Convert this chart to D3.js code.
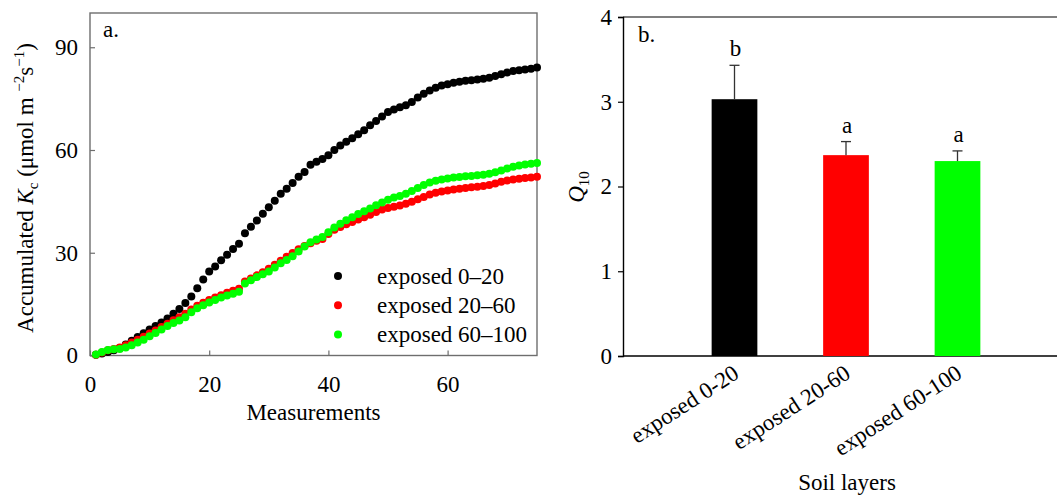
<!DOCTYPE html>
<html>
<head>
<meta charset="utf-8">
<script src="https://cdn.jsdelivr.net/npm/d3@7"></script>
<style>
  html, body { margin: 0; padding: 0; background: #fff; }
  svg { display: block; }
  text { font-family: "Liberation Serif", "Times New Roman", serif; fill: #000; }
</style>
</head>
<body>
<svg id="fig" width="1057" height="498"></svg>
<script>
// ---- Panel a: accumulated Kc per measurement, three soil layers ----
const measurements = d3.range(1, 76);
const exposed0_20 = [0.2, 0.6, 1.0, 1.5, 2.2, 3.2, 4.3, 5.4, 6.5, 7.6,
  8.6, 9.6, 10.8, 12.2, 13.6, 15.3, 17.2, 19.6, 22.2, 24.5,
  26.0, 27.8, 29.4, 31.1, 32.6, 35.7, 37.6, 39.4, 41.4, 43.3,
  45.2, 47.2, 48.7, 50.4, 52.2, 53.6, 55.7, 56.6, 57.4, 58.5,
  60.0, 61.3, 62.4, 63.4, 64.6, 65.8, 67.2, 68.5, 69.8, 71.1,
  71.8, 72.5, 73.1, 74.0, 75.3, 76.4, 77.4, 78.2, 78.8, 79.2,
  79.6, 79.9, 80.2, 80.4, 80.6, 80.8, 81.1, 81.6, 82.1, 82.6,
  83.1, 83.3, 83.5, 83.7, 84.1];
const exposed20_60 = [0.2, 0.9, 1.5, 1.9, 2.3, 3.0, 3.8, 4.6, 5.5, 6.4,
  7.3, 8.3, 9.3, 10.3, 11.2, 12.2, 13.4, 14.5, 15.4, 16.2,
  16.9, 17.6, 18.3, 18.9, 19.5, 21.6, 22.5, 23.4, 24.3, 25.3,
  26.5, 27.7, 28.8, 29.9, 31.0, 32.0, 32.8, 33.5, 34.0, 35.5,
  36.7, 37.5, 38.3, 39.0, 39.7, 40.4, 41.1, 41.9, 42.6, 43.1,
  43.4, 43.8, 44.3, 44.9, 45.6, 46.3, 47.0, 47.5, 47.9, 48.2,
  48.5, 48.7, 48.9, 49.1, 49.3, 49.5, 49.8, 50.2, 50.7, 51.1,
  51.4, 51.6, 51.8, 52.0, 52.2];
const exposed60_100 = [0.3, 1.0, 1.6, 1.8, 1.9, 2.3, 3.0, 3.8, 4.6, 5.6,
  6.6, 7.6, 8.6, 9.5, 10.2, 11.2, 12.6, 13.8, 14.7, 15.5,
  16.2, 16.9, 17.5, 18.0, 18.6, 21.0, 22.0, 22.9, 23.7, 24.5,
  25.7, 26.9, 27.9, 29.0, 30.4, 31.8, 33.1, 33.9, 34.6, 36.0,
  37.4, 38.5, 39.5, 40.4, 41.3, 42.1, 42.9, 43.9, 44.7, 45.5,
  46.1, 46.6, 47.2, 48.0, 48.9, 49.8, 50.5, 51.0, 51.4, 51.7,
  52.0, 52.1, 52.3, 52.4, 52.6, 52.8, 53.1, 53.5, 54.0, 54.6,
  55.1, 55.5, 55.8, 56.0, 56.2];
const seriesNames = ["exposed 0\u201320", "exposed 20\u201360", "exposed 60\u2013100"];
const seriesColors = ["#000000", "#ff0000", "#00ff00"];
const xTicksA = [0, 20, 40, 60];
const yTicksA = [0, 30, 60, 90];

// ---- Panel b: Q10 by soil layer ----
const layers = ["exposed 0-20", "exposed 20-60", "exposed 60-100"];
const q10 = [3.03, 2.37, 2.30];
const q10Err = [0.40, 0.16, 0.12];
const groupLetters = ["b", "a", "a"];
const yTicksB = [0, 1, 2, 3, 4];

const svg = d3.select("#fig");
const FS = 23;

// ================= Panel a =================
const A = { left: 90, right: 537, top: 13, bottom: 355.5 };
const xA = d3.scaleLinear().domain([0, 75]).range([A.left, A.right]);
const yA = d3.scaleLinear().domain([0, 100]).range([A.bottom, A.top]);
const gA = svg.append("g");

gA.append("rect")
  .attr("x", A.left).attr("y", A.top)
  .attr("width", A.right - A.left).attr("height", A.bottom - A.top)
  .attr("fill", "none").attr("stroke", "#6e6e6e").attr("stroke-width", 1.4);

const axLA = gA.append("g").attr("transform", `translate(${A.left},0)`)
  .call(d3.axisLeft(yA).tickValues(yTicksA).tickSize(-5).tickPadding(12));
const axBA = gA.append("g").attr("transform", `translate(0,${A.bottom})`)
  .call(d3.axisBottom(xA).tickValues(xTicksA).tickSize(-5).tickPadding(20));
[axLA, axBA].forEach(ax => {
  ax.select(".domain").remove();
  ax.selectAll(".tick line").attr("stroke", "#6e6e6e").attr("stroke-width", 1.2);
  ax.selectAll(".tick text").attr("font-size", FS)
    .attr("font-family", "Liberation Serif").attr("fill", "#000");
});

const seriesA = [exposed0_20, exposed20_60, exposed60_100];
seriesA.forEach((vals, k) => {
  gA.append("g").selectAll("circle")
    .data(measurements.map((m, i) => ({ m, v: vals[i] })))
    .join("circle")
    .attr("cx", d => xA(d.m))
    .attr("cy", d => yA(d.v))
    .attr("r", 4)
    .attr("fill", seriesColors[k]);
});

// legend
const leg = gA.append("g");
seriesNames.forEach((name, k) => {
  const y0 = 276 + k * 29.3;
  leg.append("circle").attr("cx", 338).attr("cy", y0).attr("r", 4).attr("fill", seriesColors[k]);
  leg.append("text").attr("x", 377).attr("y", y0 + 7.5).attr("font-size", FS).text(name);
});

gA.append("text").attr("x", 103).attr("y", 37).attr("font-size", FS).text("a.");

gA.append("text").attr("x", (A.left + A.right) / 2).attr("y", 420)
  .attr("text-anchor", "middle").attr("font-size", FS).text("Measurements");

const yLab = gA.append("text")
  .attr("transform", "translate(33,188) rotate(-90)")
  .attr("text-anchor", "middle").attr("font-size", FS);
yLab.append("tspan").text("Accumulated ");
yLab.append("tspan").attr("font-style", "italic").text("K");
yLab.append("tspan").attr("font-size", 15).attr("dy", 5).text("c");
yLab.append("tspan").attr("dy", -5).text(" (\u03bcmol m ");
yLab.append("tspan").attr("font-size", 15).attr("dy", -9).text("\u22122");
yLab.append("tspan").attr("dy", 9).text("s");
yLab.append("tspan").attr("font-size", 15).attr("dy", -9).text("\u22121");
yLab.append("tspan").attr("dy", 9).text(")");

// ================= Panel b =================
const B = { left: 623, right: 1069, top: 17, bottom: 356 };
const xB = d3.scaleLinear().domain([0, 4]).range([B.left, B.right]);
const yB = d3.scaleLinear().domain([0, 4]).range([B.bottom, B.top]);
const barW = 0.41;
const gB = svg.append("g");

gB.append("line").attr("x1", B.left).attr("x2", B.right)
  .attr("y1", B.top).attr("y2", B.top)
  .attr("stroke", "#555").attr("stroke-width", 1.6);

const axLB = gB.append("g").attr("transform", `translate(${B.left},0)`)
  .call(d3.axisLeft(yB).tickValues(yTicksB).tickSize(5).tickPadding(6).tickFormat(d3.format("d")));
axLB.select(".domain").attr("stroke", "#000").attr("stroke-width", 1.4);
axLB.selectAll(".tick line").attr("stroke", "#000").attr("stroke-width", 1.2);
axLB.selectAll(".tick text").attr("font-size", FS).attr("font-family", "Liberation Serif").attr("fill", "#000");

gB.append("line").attr("x1", B.left).attr("x2", B.right)
  .attr("y1", B.bottom).attr("y2", B.bottom)
  .attr("stroke", "#000").attr("stroke-width", 1.4);

const barsData = layers.map((name, i) => ({ name, i, v: q10[i], e: q10Err[i], g: groupLetters[i], c: seriesColors[i] }));

gB.selectAll("rect.bar").data(barsData).join("rect")
  .attr("class", "bar")
  .attr("x", d => xB(d.i + 1 - barW / 2))
  .attr("width", d => xB(d.i + 1 + barW / 2) - xB(d.i + 1 - barW / 2))
  .attr("y", d => yB(d.v))
  .attr("height", d => yB(0) - yB(d.v))
  .attr("fill", d => d.c);

const eb = gB.selectAll("g.err").data(barsData).join("g").attr("class", "err");
eb.append("line")
  .attr("x1", d => xB(d.i + 1)).attr("x2", d => xB(d.i + 1))
  .attr("y1", d => yB(d.v)).attr("y2", d => yB(d.v + d.e))
  .attr("stroke", "#333").attr("stroke-width", 1.3);
eb.append("line")
  .attr("x1", d => xB(d.i + 1) - 5).attr("x2", d => xB(d.i + 1) + 5)
  .attr("y1", d => yB(d.v + d.e)).attr("y2", d => yB(d.v + d.e))
  .attr("stroke", "#333").attr("stroke-width", 1.3);
eb.append("text")
  .attr("x", d => xB(d.i + 1) + 1)
  .attr("y", d => yB(d.v + d.e) - 9)
  .attr("text-anchor", "middle").attr("font-size", FS)
  .text(d => d.g);

gB.selectAll("text.xlab").data(barsData).join("text")
  .attr("class", "xlab")
  .attr("text-anchor", "end")
  .attr("font-size", FS)
  .attr("transform", d => `translate(${xB(d.i + 1) + 6},${B.bottom + 21}) rotate(-33)`)
  .text(d => d.name);

gB.append("text").attr("x", 638).attr("y", 42).attr("font-size", FS).text("b.");

gB.append("text").attr("x", 847).attr("y", 490)
  .attr("text-anchor", "middle").attr("font-size", FS).text("Soil layers");

const qLab = gB.append("text")
  .attr("transform", "translate(584,187) rotate(-90)")
  .attr("text-anchor", "middle").attr("font-size", FS);
qLab.append("tspan").attr("font-style", "italic").text("Q");
qLab.append("tspan").attr("font-size", 15).attr("dy", 5).text("10");
</script>
</body>
</html>
